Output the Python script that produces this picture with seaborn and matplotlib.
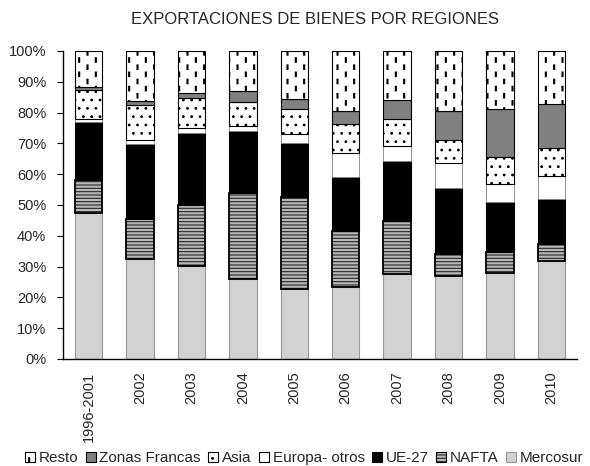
import numpy as np
import pandas as pd
import matplotlib
matplotlib.use("Agg")
import matplotlib.pyplot as plt
import matplotlib.hatch as mhatch
from matplotlib.path import Path
from matplotlib.patches import Patch
from matplotlib.ticker import PercentFormatter
import seaborn as sns

# ---------------- data (percent of exports) ----------------
years = ["1996-2001", "2002", "2003", "2004", "2005",
         "2006", "2007", "2008", "2009", "2010"]
mercosur = [47.3, 32.5, 30.2, 25.9, 22.6, 23.5, 27.5, 26.9, 28.0, 31.9]
nafta = [10.8, 13.0, 19.8, 28.1, 30.1, 18.2, 17.3, 7.3, 6.6, 5.4]
ue27 = [18.8, 24.2, 23.5, 20.1, 17.5, 17.5, 19.6, 21.2, 16.3, 14.7]
europa_otros = [0.9, 1.4, 1.4, 1.5, 2.8, 7.8, 4.9, 8.1, 5.9, 7.5]
asia = [9.5, 11.4, 9.7, 7.9, 8.2, 9.3, 8.7, 7.6, 8.7, 8.9]
zonas_francas = [0.9, 1.3, 1.9, 3.5, 3.1, 4.3, 6.1, 9.4, 15.7, 14.4]
resto = [11.8, 16.2, 13.5, 13.0, 15.7, 19.4, 15.9, 19.5, 18.8, 17.2]

series_names = ["Mercosur", "NAFTA", "UE-27", "Europa- otros", "Asia",
                "Zonas Francas", "Resto"]
series_values = [mercosur, nafta, ue27, europa_otros, asia, zonas_francas, resto]


# ---------------- custom dashed vertical hatch ----------------
class DashedVertical(mhatch.HatchPatternBase):
    ROWS = 7

    def __init__(self, hatch, density):
        self.num_cols = int((hatch.count('|') + hatch.count('+')) * density)
        self.num_vertices = self.num_cols * self.ROWS * 5

    def set_vertices_and_codes(self, vertices, codes):
        n, r = self.num_cols, self.ROWS
        w, L = 0.005, 0.045
        k = 0
        for i in range(n):
            x = (i + 0.5) / n
            for j in range(r):
                y0 = (j + 0.5 * (i % 2)) / r + 0.02
                vertices[k:k + 5] = [(x - w, y0), (x + w, y0), (x + w, y0 + L),
                                     (x - w, y0 + L), (x - w, y0)]
                codes[k:k + 5] = [Path.MOVETO, Path.LINETO, Path.LINETO,
                                  Path.LINETO, Path.CLOSEPOLY]
                k += 5


mhatch._hatch_types = [DashedVertical if t is mhatch.VerticalHatch else t
                       for t in mhatch._hatch_types]

sns.set_style("white")
plt.rcParams["font.family"] = ["Liberation Sans", "DejaVu Sans"]
plt.rcParams["hatch.linewidth"] = 0.8

styles = {
    "Mercosur":      dict(color="#d2d2d2", edgecolor="#9a9a9a", hatch=None, lw=0.8),
    "NAFTA":         dict(color="#b8b8b8", edgecolor="black", hatch="-----", lw=1.3),
    "UE-27":         dict(color="black", edgecolor="black", hatch=None, lw=0.8),
    "Europa- otros": dict(color="white", edgecolor="#808080", hatch=None, lw=0.6),
    "Asia":          dict(color="white", edgecolor="black", hatch="..", lw=0.8),
    "Zonas Francas": dict(color="#808080", edgecolor="black", hatch=None, lw=0.8),
    "Resto":         dict(color="white", edgecolor="black", hatch="||", lw=0.8),
}
hatch_colors = {"NAFTA": "#262626"}


def style_patch(p, name):
    if name in hatch_colors:
        p._hatch_color = matplotlib.colors.to_rgba(hatch_colors[name])


fig = plt.figure(figsize=(5.9, 4.66), dpi=100)
ax = fig.add_axes([63 / 590, 1 - 359 / 466, (577 - 63) / 590, (359 - 51) / 466])

bottom = np.zeros(len(years))
for name, vals in zip(series_names, series_values):
    st = styles[name]
    df = pd.DataFrame({"year": years, "share": vals})
    n_before = len(ax.patches)
    sns.barplot(data=df, x="year", y="share", order=years, bottom=bottom,
                color=st["color"], edgecolor=st["edgecolor"], hatch=st["hatch"],
                linewidth=st["lw"], width=0.53, saturation=1, errorbar=None,
                ax=ax)
    for p in ax.patches[n_before:]:
        style_patch(p, name)
    bottom = bottom + np.array(vals)

ax.set_xlim(-0.5, len(years) - 0.5)
ax.set_ylim(0, 100)
ax.set_yticks(np.arange(0, 101, 10))
ax.yaxis.set_major_formatter(PercentFormatter(decimals=0))
ax.set_xlabel("")
ax.set_ylabel("")
ax.tick_params(axis="y", length=4, width=0.8, pad=8, labelsize=10.5,
               color="black", left=True)
ax.tick_params(axis="x", length=0, pad=9, labelsize=10.5, rotation=90)
for lab in ax.get_xticklabels():
    lab.set_va("top")
sns.despine(ax=ax)
for s in ["left", "bottom"]:
    ax.spines[s].set_color("black")
    ax.spines[s].set_linewidth(1.0)
ax.grid(False)

fig.text(315 / 590, 1 - 20 / 466, "EXPORTACIONES DE BIENES POR REGIONES",
         ha="center", va="center", fontsize=12)

handles = []
labels = []
for name in series_names[::-1]:
    st = styles[name]
    h = Patch(facecolor=st["color"], edgecolor="black" if name != "Mercosur" else "#9a9a9a",
              hatch=st["hatch"], linewidth=0.8)
    style_patch(h, name)
    handles.append(h)
    labels.append(name)

fig.legend(handles, labels, loc="center", bbox_to_anchor=(304 / 590, 1 - 458 / 466),
           ncol=7, frameon=False, handlelength=0.65, handleheight=0.65,
           handletextpad=0.25, columnspacing=0.48, borderaxespad=0, borderpad=0,
           fontsize=11)

fig.savefig("out.png", dpi=100)
